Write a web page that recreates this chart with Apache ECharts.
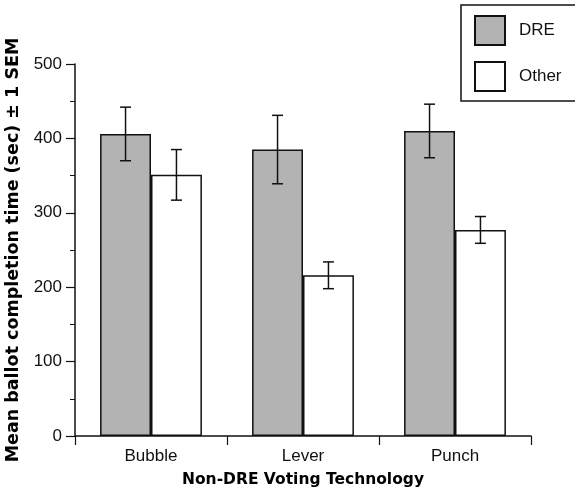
<!DOCTYPE html>
<html>
<head>
<meta charset="utf-8">
<script src="https://cdn.jsdelivr.net/npm/echarts@6/dist/echarts.min.js"></script>
<style>
  html, body { margin: 0; padding: 0; background: #fff; }
  #chart { width: 575px; height: 490px; }
</style>
</head>
<body>
<div id="chart"></div>
<script>
const categories = ['Bubble', 'Lever', 'Punch'];
const dreMean = [406, 385, 410];
const dreSem = [36, 46, 36];
const otherMean = [351, 216, 277];
const otherSem = [34, 18, 18];

const FONT = '"Liberation Sans", Arial, Helvetica, sans-serif';
const BOLD_FONT = '"DejaVu Sans", "Liberation Sans", sans-serif';
const catGap = 0.33;

const chart = echarts.init(document.getElementById('chart'));

// error bars drawn beside each bar; side = -1 for DRE, +1 for Other
function errorSeries(name, means, sems, side) {
  return {
    name: name + ' err',
    type: 'custom',
    silent: true,
    z: 5,
    data: means.map((m, i) => [i, m - sems[i], m + sems[i]]),
    renderItem: (params, api) => {
      const catW = api.size([1, 0])[0];
      const barW = catW * (1 - catGap) / 2;
      const lo = api.coord([api.value(0), api.value(1)]);
      const hi = api.coord([api.value(0), api.value(2)]);
      const x = lo[0] + side * barW / 2;
      const cap = 5.5;
      const style = { stroke: '#111', lineWidth: 1.5 };
      return {
        type: 'group',
        children: [
          { type: 'line', shape: { x1: x, y1: hi[1], x2: x, y2: lo[1] }, style },
          { type: 'line', shape: { x1: x - cap, y1: hi[1], x2: x + cap, y2: hi[1] }, style },
          { type: 'line', shape: { x1: x - cap, y1: lo[1], x2: x + cap, y2: lo[1] }, style }
        ]
      };
    }
  };
}

const option = {
  animation: false,
  textStyle: { fontFamily: FONT },
  grid: { left: 75, right: 44, top: 64, bottom: 54, containLabel: false, outerBoundsMode: 'none' },
  legend: {
    data: ['DRE', 'Other'],
    orient: 'vertical',
    left: 461,
    top: 5,
    padding: [10, 60, 9, 13],
    itemGap: 15,
    itemWidth: 30,
    itemHeight: 29,
    borderColor: '#111',
    borderWidth: 1.5,
    borderRadius: 0,
    selectedMode: false,
    icon: 'rect',
    textStyle: { fontFamily: FONT, fontSize: 17, color: '#111', padding: [0, 0, 0, 9] }
  },
  xAxis: {
    type: 'category',
    data: categories,
    name: 'Non-DRE Voting Technology',
    nameLocation: 'middle',
    nameGap: 36,
    nameTextStyle: { fontFamily: BOLD_FONT, fontSize: 15.5, fontWeight: 'bold', color: '#000' },
    axisLine: { lineStyle: { color: '#111', width: 1.5 } },
    axisTick: { show: true, inside: false, length: 9, alignWithLabel: false, lineStyle: { color: '#111', width: 1.2 } },
    axisLabel: { fontFamily: FONT, fontSize: 17, color: '#111', margin: 12 },
    splitLine: { show: false }
  },
  yAxis: {
    type: 'value',
    min: 0,
    max: 500,
    interval: 100,
    name: 'Mean ballot completion time (sec) \u00b1 1 SEM',
    nameLocation: 'middle',
    nameGap: 51,
    nameTextStyle: { fontFamily: BOLD_FONT, fontSize: 17.5, fontWeight: 'bold', color: '#000' },
    axisLine: { show: true, lineStyle: { color: '#111', width: 1.5 } },
    axisTick: { show: true, inside: false, length: 9, lineStyle: { color: '#111', width: 1.2 } },
    minorTick: { show: true, splitNumber: 2, length: 5, lineStyle: { color: '#111', width: 1 } },
    axisLabel: { fontFamily: FONT, fontSize: 17, color: '#111', margin: 13 },
    splitLine: { show: false }
  },
  series: [
    {
      name: 'DRE',
      type: 'bar',
      data: dreMean,
      barGap: '0%',
      barCategoryGap: (catGap * 100) + '%',
      itemStyle: { color: '#b3b3b3', borderColor: '#111', borderWidth: 1.5 }
    },
    {
      name: 'Other',
      type: 'bar',
      data: otherMean,
      itemStyle: { color: '#ffffff', borderColor: '#111', borderWidth: 1.5 }
    },
    errorSeries('DRE', dreMean, dreSem, -1),
    errorSeries('Other', otherMean, otherSem, 1)
  ]
};

chart.setOption(option);
</script>
</body>
</html>
